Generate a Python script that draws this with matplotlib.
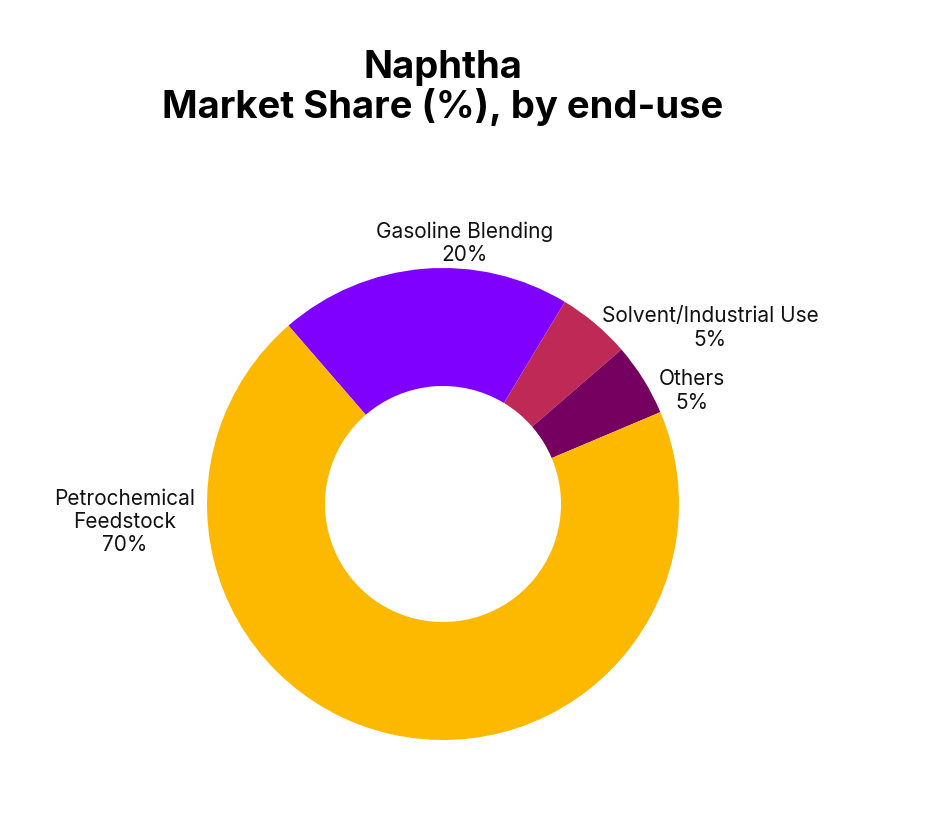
import matplotlib
matplotlib.use("Agg")
import matplotlib.pyplot as plt

plt.rcParams['font.family'] = ['Inter', 'DejaVu Sans']

segments = ['Gasoline Blending', 'Solvent/Industrial Use', 'Others', 'Petrochemical\nFeedstock']
shares = [20, 5, 5, 70]
colors = ['#7F00FF', '#BE2A55', '#760060', '#FDB900']

# label centres in axes data units (pie radius = 1)
label_pos = [(0.093, 1.106), (1.131, 0.746), (1.055, 0.479), (-1.347, -0.076)]

fig = plt.figure(figsize=(9.32, 8.18), dpi=100)
ax = fig.add_axes([207 / 932, 78 / 818, 472 / 932, 472 / 818])

wedges, _ = ax.pie(shares, colors=colors, startangle=130.9, counterclock=False,
                   radius=1, wedgeprops=dict(width=0.5, linewidth=0))
ax.set_xlim(-1, 1)
ax.set_ylim(-1, 1)
ax.set_aspect('equal')
ax.axis('off')

for name, val, (x, y) in zip(segments, shares, label_pos):
    ax.text(x, y, f"{name}\n{val}%", ha='center', va='center', fontsize=15,
            color='#111111', linespacing=1.2, clip_on=False)

fig.text(443 / 932, 1 - 88 / 818, "Naphtha\nMarket Share (%), by end-use",
         ha='center', va='center', fontsize=27.5, fontweight='bold', linespacing=1.1)

fig.savefig('out.png', dpi=100, facecolor='white')
